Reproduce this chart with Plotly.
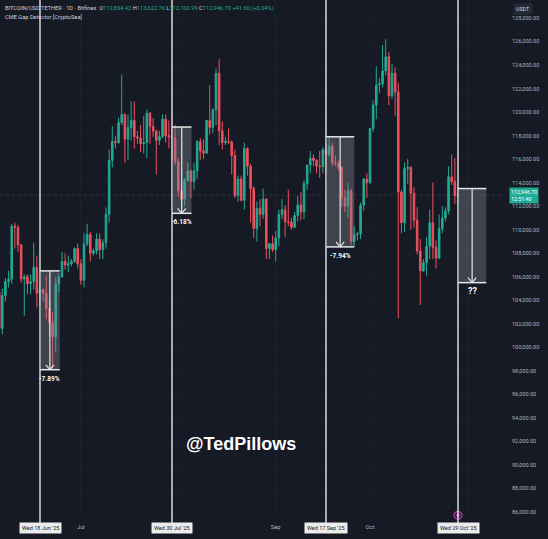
import pandas as pd
import plotly.graph_objects as go

# ---- BTC/USDT daily candles (Bitfinex), 5 Jun - 29 Oct 2025 ----
dates = pd.date_range("2025-06-05", "2025-10-29", freq="D")

opens = [
    # Jun 5-30
    104700, 101600, 104400, 105600, 105800, 110300, 110200, 108700, 105800, 106000,
    105400, 105600, 106800, 104600, 104900, 104600, 103300, 102100, 100900, 105400,
    106000, 107300, 107000, 107100, 107300, 108400,
    # Jul
    107100, 105700, 108800, 109600, 108000, 108200, 109200, 108300, 108900, 111300,
    115900, 117500, 117400, 119100, 119800, 117700, 118700, 119300, 117900, 117800,
    117300, 117400, 119900, 118800, 118400, 117600, 117900, 119400, 118000, 117900,
    117800,
    # Aug
    115800, 113300, 112600, 114200, 115000, 114100, 115000, 117500, 116700, 116500,
    119300, 118700, 120200, 123300, 118400, 117400, 117500, 117450, 116300, 112900,
    114300, 112500, 116900, 115400, 113500, 110100, 111800, 111300, 112600, 108400,
    108800,
    # Sep
    108300, 109300, 111300, 111700, 110700, 110650, 110200, 111200, 112100, 111500,
    113900, 115500, 116100, 115900, 115400, 115350, 116800, 116400, 117100, 115700,
    115650, 115300, 112700, 112000, 113300, 109000, 109600, 109650, 112100, 114300,
    # Oct 1-29
    114000, 118600, 120600, 122300, 122400, 123500, 124700, 121400, 123300, 121700,
    113200, 110600, 115200, 115300, 113100, 110800, 108200, 106500, 107200, 108600,
    110600, 108500, 107600, 110100, 111000, 111600, 114500, 114100, 112834.42,
]
highs = [
    105900, 105000, 105900, 106500, 110500, 110600, 110400, 108800, 106200, 106200,
    106200, 108900, 107800, 105600, 105000, 106100, 104000, 103000, 106000, 106300,
    108100, 108000, 107800, 107500, 108500, 108800,
    107500, 109700, 110500, 109800, 108400, 109700, 109700, 109200, 111900, 116800,
    118800, 118000, 119500, 123200, 119900, 119800, 120900, 120900, 118400, 118900,
    119700, 120200, 120000, 119500, 118500, 118400, 119800, 119800, 119300, 118700,
    118900,
    116100, 114000, 114400, 115700, 115100, 115700, 117600, 117800, 117700, 119300,
    122300, 120300, 123700, 124500, 119200, 117900, 118600, 117600, 116800, 114600,
    114600, 117400, 117000, 115600, 113700, 112400, 112600, 113500, 112700, 108900,
    109500,
    109900, 111700, 112600, 112100, 113400, 111000, 111500, 112900, 113200, 114200,
    115500, 116700, 116400, 116000, 116700, 117000, 117300, 117900, 117400, 116300,
    115900, 115400, 113400, 114000, 113500, 110300, 109800, 112300, 114400, 114800,
    118600, 121000, 123900, 122900, 125700, 126200, 125100, 124100, 123800, 122500,
    113400, 115700, 116000, 115400, 113600, 111900, 109200, 107500, 109400, 111700,
    114000, 109100, 111300, 112000, 111900, 115400, 116400, 116100, 113622.76,
]
lows = [
    100400, 101100, 103900, 105100, 105400, 108400, 108100, 105500, 102700, 104500,
    104500, 104900, 103400, 103600, 103900, 102400, 101000, 98200, 99600, 104700,
    105900, 106600, 106400, 106900, 107200, 106700,
    105300, 105100, 108600, 107300, 107800, 107900, 107500, 107500, 108400, 110600,
    115300, 116900, 117300, 118900, 115700, 115900, 117600, 116900, 117300, 116600,
    116500, 116100, 117300, 117900, 114700, 117200, 117800, 117400, 116900, 115900,
    115500,
    112800, 112000, 112000, 114100, 112700, 113400, 114300, 115900, 116000, 116500,
    118100, 118200, 118900, 117200, 116800, 117200, 117300, 114700, 112700, 112400,
    112400, 111700, 114600, 110600, 109300, 109000, 110300, 110900, 107500, 107500,
    108100,
    107300, 108600, 110900, 109400, 110300, 110000, 110200, 110700, 110800, 110900,
    113400, 114800, 115400, 114800, 114400, 114800, 114700, 116200, 115400, 115400,
    115000, 111900, 111500, 111000, 108700, 108600, 109100, 109200, 111600, 112700,
    113900, 118300, 119400, 121600, 122100, 123100, 120600, 121100, 119700, 102500,
    109700, 109800, 113900, 110000, 110200, 107900, 103600, 106400, 106100, 107500,
    107500, 106700, 107500, 109700, 110700, 111300, 113800, 112200, 112100.99,
]
closes = [
    101600, 104400, 105600, 105800, 110300, 110200, 108700, 105800, 106000, 105400,
    105600, 106800, 104600, 104900, 104600, 103300, 102100, 100900, 105400, 106000,
    107300, 107000, 107100, 107300, 108400, 107100,
    105700, 108800, 109600, 108000, 108200, 109200, 108300, 108900, 111300, 115900,
    117500, 117400, 119100, 119800, 117700, 118700, 119300, 117900, 117800, 117300,
    117400, 119900, 118800, 118400, 117600, 117900, 119400, 118000, 117900, 117800,
    115800,
    113300, 112600, 114200, 115000, 114100, 115000, 117500, 116700, 116500, 119300,
    118700, 120200, 123300, 118400, 117400, 117500, 117450, 116300, 112900, 114300,
    112500, 116900, 115400, 113500, 110100, 111800, 111300, 112600, 108400, 108800,
    108300,
    109300, 111300, 111700, 110700, 110650, 110200, 111200, 112100, 111500, 113900,
    115500, 116100, 115900, 115400, 115350, 116800, 116400, 117100, 115700, 115650,
    115300, 112700, 112000, 113300, 109000, 109600, 109650, 112100, 114300, 114000,
    118600, 120600, 122300, 122400, 123500, 124700, 121400, 123300, 121700, 113200,
    110600, 115200, 115300, 113100, 110800, 108200, 106500, 107200, 108600, 110600,
    108500, 107600, 110100, 111000, 111600, 114500, 114100, 112905.10, 112946.70,
]

# ---- CME gaps marked by the detector ----
gap_dates = ["2025-06-18", "2025-07-30", "2025-09-17", "2025-10-29"]
gap_tops = [106500, 118730, 117900, 113500]
gap_pcts = [-7.89, -6.18, -7.94, None]      # None = gap still open
open_gap_bottom = 105500
gap_spans_days = [6.3, 6.2, 9.0, 9.0]

price_ticks = list(range(86000, 128001, 2000))
month_ticks = ["2025-07-01", "2025-08-01", "2025-09-01", "2025-10-01", "2025-11-01"]
month_labels = ["Jul", "", "Sep", "Oct", ""]

# ---- styling ----
BG = "#151a25"
GRID = "#1b202c"
UP = "#22ab94"
DOWN = "#f0505e"
TXT = "#b2b5be"
LINE = "#dadada"
FONT = "Roboto"

fig = go.Figure()

fig.add_trace(go.Candlestick(
    x=dates, open=opens, high=highs, low=lows, close=closes,
    increasing=dict(line=dict(color=UP, width=1), fillcolor=UP),
    decreasing=dict(line=dict(color=DOWN, width=1), fillcolor=DOWN),
    whiskerwidth=0, showlegend=False, hoverinfo="skip",
))

day = pd.Timedelta(days=1)
shapes = []
annotations = []

# last-price dotted line
last_close = closes[-1]
shapes.append(dict(type="line", xref="paper", x0=0, x1=1, yref="y",
                   y0=last_close, y1=last_close,
                   line=dict(color="rgba(140,150,160,0.22)", width=1, dash="dot"),
                   layer="below"))

for d, top, pct, span in zip(gap_dates, gap_tops, gap_pcts, gap_spans_days):
    t = pd.Timestamp(d)
    bottom = top * (1 + pct / 100) if pct is not None else open_gap_bottom
    x1 = t + span * day
    xc = t + span / 2 * day

    # vertical marker line through the full pane
    shapes.append(dict(type="line", xref="x", x0=t, x1=t, yref="paper",
                       y0=-0.012, y1=1, line=dict(color=LINE, width=1.5),
                       layer="above"))
    # gap box
    shapes.append(dict(type="rect", xref="x", x0=t, x1=x1, yref="y",
                       y0=bottom, y1=top, fillcolor="rgba(130,134,146,0.38)",
                       line=dict(width=0), layer="above"))
    for yy in (top, bottom):
        shapes.append(dict(type="line", xref="x", x0=t, x1=x1, yref="y",
                           y0=yy, y1=yy, line=dict(color="#e6e6e6", width=1.5),
                           layer="above"))
    # arrow down the middle
    shapes.append(dict(type="line", xref="x", x0=xc, x1=xc, yref="y",
                       y0=top, y1=bottom, line=dict(color="#e6e6e6", width=1.2),
                       layer="above"))
    for side in (-1, 1):
        shapes.append(dict(type="line", xref="x", x0=xc + side * 1.3 * day, x1=xc,
                           yref="y", y0=bottom + 420, y1=bottom,
                           line=dict(color="#e6e6e6", width=1.2), layer="above"))
    # gap size label
    label = f"{pct:.2f}%" if pct is not None else "??"
    annotations.append(dict(x=xc, y=bottom, xref="x", yref="y", showarrow=False,
                            yanchor="top", yshift=-3 if pct is not None else -1,
                            text=f"<b>{label}</b>",
                            font=dict(size=6.5 if pct is not None else 9,
                                      color="#ffffff", family=FONT)))
    # date tag on the time axis
    annotations.append(dict(x=t, y=-0.0215, xref="x", yref="paper",
                            showarrow=False, text=t.strftime("%a %d %b '%y"),
                            font=dict(size=5.5, color="#131722", family=FONT),
                            bgcolor="#ececec", borderpad=2, yanchor="middle"))

# event icon on the time scale
last_gap = pd.Timestamp(gap_dates[-1])
fig.add_trace(go.Scatter(x=[last_gap], y=[85720], mode="markers", cliponaxis=False,
                         marker=dict(symbol="circle", size=8, color="#3b1c44",
                                     line=dict(color="#a8399e", width=1.2)),
                         showlegend=False, hoverinfo="skip"))
fig.add_trace(go.Scatter(x=[last_gap], y=[85720], mode="markers", cliponaxis=False,
                         marker=dict(symbol="diamond", size=3, color="#d35fc9"),
                         showlegend=False, hoverinfo="skip"))

# header legend
o, h, l, c = opens[-1], highs[-1], lows[-1], closes[-1]
chg = c - closes[-2]
chg_pct = chg / closes[-2] * 100


def val(v):
    return f"<span style='color:{UP}'>{v}</span>"


header = ("BITCOIN/USD TETHER · 1D · Bitfinex  "
          f"O{val(f'{o:,.2f}')} H{val(f'{h:,.2f}')} L{val(f'{l:,.2f}')} "
          f"C{val(f'{c:,.2f}')} {val(f'{chg:+.2f} ({chg_pct:+.2f}%)')}")
annotations.append(dict(x=0, y=1, xref="paper", yref="paper", xanchor="left",
                        yanchor="top", xshift=3, yshift=-3, showarrow=False,
                        text=header, font=dict(size=5.7, color="#d1d4dc", family=FONT)))
annotations.append(dict(x=0, y=1, xref="paper", yref="paper", xanchor="left",
                        yanchor="top", xshift=3, yshift=-12, showarrow=False,
                        text="CME Gap Detector [CryptoSea]",
                        font=dict(size=5.7, color="#d1d4dc", family=FONT)))

# price scale tags
annotations.append(dict(x=1, y=1, xref="paper", yref="paper", xanchor="left",
                        yanchor="top", xshift=10, yshift=-3, showarrow=False,
                        text="USDT", bgcolor="#262a35", borderpad=2,
                        font=dict(size=5.3, color="#d1d4dc", family=FONT)))
annotations.append(dict(x=1, y=c, xref="paper", yref="y", xanchor="left",
                        yanchor="middle", xshift=6, yshift=0, showarrow=False,
                        text=f"{c:,.2f}<br>12:51:40", bgcolor=UP, borderpad=1,
                        align="left",
                        font=dict(size=5.3, color="#ffffff", family=FONT)))

# watermark
annotations.append(dict(x=0.48, y=(517 - 456) / 517, xref="paper", yref="paper",
                        showarrow=False, text="<b>@TedPillows</b>",
                        font=dict(size=18, color="#ffffff", family="Liberation Sans")))

fig.update_layout(
    width=548, height=539,
    margin=dict(l=0, r=45, t=0, b=22),
    paper_bgcolor=BG, plot_bgcolor=BG,
    showlegend=False, hovermode=False,
    shapes=shapes, annotations=annotations,
    xaxis=dict(type="date", range=["2025-06-05 06:33", "2025-11-12 07:38"],
               rangeslider=dict(visible=False),
               tickvals=month_ticks, ticktext=month_labels,
               showgrid=True, gridcolor=GRID, gridwidth=1,
               zeroline=False, showline=False, ticks="",
               tickfont=dict(size=5.8, color=TXT, family=FONT),
               ticklabelstandoff=5),
    yaxis=dict(side="right", range=[85575, 129530], tickvals=price_ticks,
               tickformat=",.2f", showgrid=True, gridcolor="#171c28",
               zeroline=False, showline=False, ticks="",
               tickfont=dict(size=5.5, color=TXT, family=FONT),
               ticklabelstandoff=8),
)

fig.write_html("out.html")
